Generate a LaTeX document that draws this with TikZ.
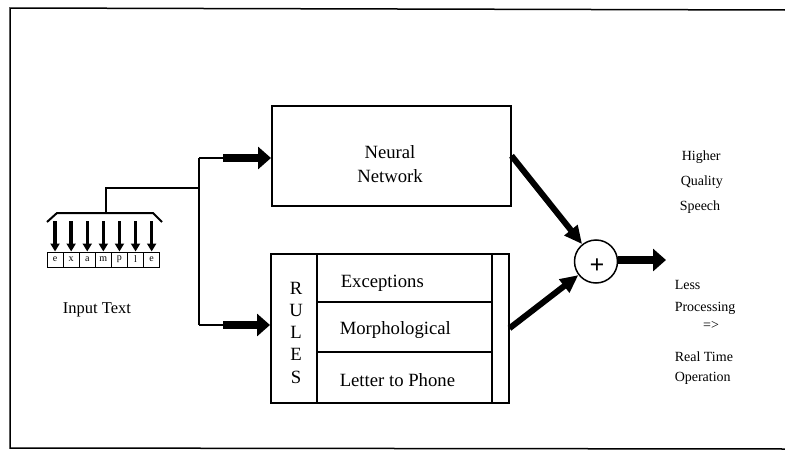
\documentclass[tikz,border=0pt]{standalone}
\usepackage{fontspec}
\setmainfont{Liberation Serif}
\usetikzlibrary{arrows.meta,calc}
\begin{document}
\begin{tikzpicture}[x=1pt,y=-1pt,line width=1.5pt,
  big/.style={inner sep=0pt,font=\fontsize{18.7}{20}\selectfont},
  small/.style={inner sep=0pt,font=\fontsize{14}{16}\selectfont,anchor=west},
  letter/.style={draw,line width=1pt,minimum width=16.1pt,minimum height=15pt,inner sep=0pt,font=\fontsize{10}{10}\selectfont},
  fat/.style={line width=8pt,-{Triangle[length=13pt,width=22pt]}},
  diag/.style={line width=6pt,-{Triangle[length=18pt,width=16pt]}},
  dn/.style={line width=3.5pt,-{Triangle[length=8pt,width=9pt]}},
  thin/.style={line width=2pt}]
\useasboundingbox (0,0) rectangle (785,455);
% frame
\draw (785,10) -- (10,8) -- (10,448) -- (785,449);
% input text
\foreach \c [count=\i] in {e,x,a,m,p,l,e}{
  \node[letter] (l\i) at ({47+16.1*(\i-0.5)},259.5) {\c};
  \coordinate (t\i) at ({47+16.1*(\i-0.5)},221);
  \draw[dn] (t\i) -- (l\i.north);
}
\coordinate (bl) at (47,222);
\coordinate (bl2) at (57,213);
\coordinate (br2) at (153,213);
\coordinate (br) at (162,222);
\draw[thin] (bl) -- (bl2) -- (br2) -- (br);
\coordinate (stem) at (106,213);
\coordinate (j) at (199,188);
\coordinate (nnk) at (199,158);
\coordinate (rk) at (199,325);
\coordinate (nna) at (223,158);
\coordinate (ra) at (223,325);
\draw[thin] (stem) |- (j);
\draw[thin] (nnk) -- (rk);
\draw[thin] (nnk) -- (nna);
\draw[thin] (rk) -- (ra);
\node[big,font=\fontsize{16.5}{18}\selectfont] (inp) at (97,310) {Input Text};
% neural network
\node[draw,anchor=north west,minimum width=239pt,minimum height=100pt,inner sep=0pt] (nn) at (271,105) {};
\node[big] (neural) at (390,152) {Neural};
\node[big] (network) at (390,176) {Network};
\draw[fat] (nna) -- (nn.west |- nna);
% rules
\node[draw,anchor=north west,minimum width=238pt,minimum height=149pt,inner sep=0pt] (rules) at (270,253) {};
\draw (317,253) -- (317,402);
\draw (492,253) -- (492,402);
\draw (317,302) -- (492,302);
\draw (317,352) -- (492,352);
\foreach \c/\y in {R/288,U/310,L/332,E/354,S/377}{
  \node[big] (r\c) at (296,\y) {\c};
}
\node[big,anchor=west] (exc) at (340,283) {Exceptions};
\node[big,anchor=west] (mor) at (339,330) {Morphological};
\node[big,anchor=west] (ltp) at (339,380) {Letter to Phone};
\draw[fat] (ra) -- (rules.west |- ra);
% summation
\node[draw,circle,minimum size=43pt,inner sep=0pt] (sum) at (596,261.5) {};
\node[inner sep=0pt,font=\fontsize{26}{26}\selectfont\bfseries] (plus) at (597,266) {+};
\draw[diag] (nn.east) -- (sum);
\draw[diag] (rules.east) -- (sum);
\coordinate (out) at (666,260);
\draw[fat] (sum.east |- out) -- (out);
% outputs
\node[small] (hig) at (681,157) {Higher};
\node[small] (qua) at (680,182) {Quality};
\node[small] (spe) at (679,207) {Speech};
\node[small] (les) at (674,285) {Less};
\node[small] (pro) at (674,308) {Processing};
\node[inner sep=0pt,font=\fontsize{14}{16}\selectfont] (imp) at (711,325) {=>};
\node[small] (rea) at (674,357) {Real Time};
\node[small] (ope) at (674,378) {Operation};
\end{tikzpicture}
\end{document}
